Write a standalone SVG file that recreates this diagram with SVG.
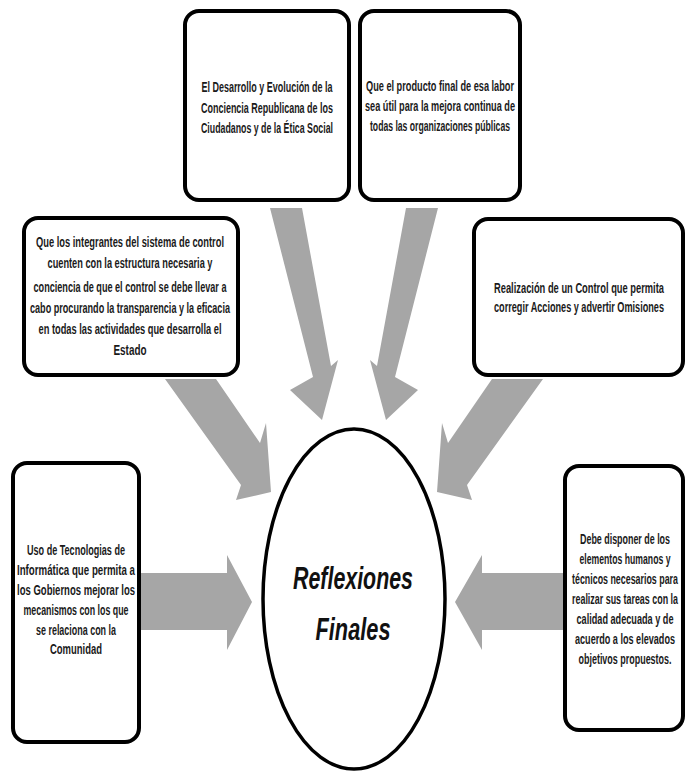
<svg xmlns="http://www.w3.org/2000/svg" width="686" height="773" viewBox="0 0 686 773">
<style>
.box{fill:#ffffff;stroke:#000000;stroke-width:4}
.arr{fill:#a6a6a6;stroke:none}
.t{font-family:"Liberation Sans Narrow","Liberation Sans",Arial,sans-serif;font-size:15px;font-weight:bold;fill:#1a1a1a;text-anchor:middle}
.c{font-family:"Liberation Sans",Arial,sans-serif;font-size:32px;font-style:italic;font-weight:bold;fill:#111111;text-anchor:middle}
</style>
<rect x="0" y="0" width="686" height="773" fill="#ffffff"/>
<g id="connectors">
<polygon class="arr" points="270,208 302,208 331,366 338,360 322,420 290,390 313,377"/>
<polygon class="arr" points="406,208 438,208 395,377 418,390 386,420 370,360 377,366"/>
<polygon class="arr" points="165,379 216,379 260,443 266,423 271,492 236,500 241,485"/>
<polygon class="arr" points="492,379 543,379 467,485 472,500 437,492 442,423 448,443"/>
<polygon class="arr" points="141,573 227,573 227,555 252,602 227,650 227,630 141,630"/>
<polygon class="arr" points="563,573 482,573 482,555 455,602 482,650 482,630 563,630"/>
</g>
<g id="node-desarrollo">
<rect class="box" x="185" y="11" width="164" height="189" rx="14"/>
<text class="t" x="267" y="92" textLength="131" lengthAdjust="spacingAndGlyphs">El Desarrollo y Evolución de la</text>
<text class="t" x="267" y="113" textLength="132" lengthAdjust="spacingAndGlyphs">Conciencia Republicana de los</text>
<text class="t" x="267" y="133" textLength="132" lengthAdjust="spacingAndGlyphs">Ciudadanos y de la Ética Social</text>
</g>
<g id="node-producto">
<rect class="box" x="360" y="11" width="160" height="189" rx="14"/>
<text class="t" x="440" y="91" textLength="148" lengthAdjust="spacingAndGlyphs">Que el producto final de esa labor</text>
<text class="t" x="440" y="111" textLength="150" lengthAdjust="spacingAndGlyphs">sea útil para la mejora continua de</text>
<text class="t" x="440" y="131" textLength="140" lengthAdjust="spacingAndGlyphs">todas las organizaciones públicas</text>
</g>
<g id="node-integrantes">
<rect class="box" x="24" y="218" width="214" height="157" rx="14"/>
<text class="t" x="130" y="247" textLength="188" lengthAdjust="spacingAndGlyphs">Que los integrantes del sistema de control</text>
<text class="t" x="130" y="268" textLength="165" lengthAdjust="spacingAndGlyphs">cuenten con la estructura necesaria y</text>
<text class="t" x="130" y="292" textLength="193" lengthAdjust="spacingAndGlyphs">conciencia de que el control se debe llevar a</text>
<text class="t" x="130" y="313" textLength="200" lengthAdjust="spacingAndGlyphs">cabo procurando la transparencia y la eficacia</text>
<text class="t" x="130" y="334" textLength="183" lengthAdjust="spacingAndGlyphs">en todas las actividades que desarrolla el</text>
<text class="t" x="130" y="355" textLength="33" lengthAdjust="spacingAndGlyphs">Estado</text>
</g>
<g id="node-control">
<rect class="box" x="474" y="219" width="209" height="156" rx="14"/>
<text class="t" x="579" y="293" textLength="170" lengthAdjust="spacingAndGlyphs">Realización de un Control que permita</text>
<text class="t" x="579" y="312" textLength="170" lengthAdjust="spacingAndGlyphs">corregir Acciones y advertir Omisiones</text>
</g>
<g id="node-tecnologias">
<rect class="box" x="13" y="463" width="126" height="279" rx="14"/>
<text class="t" x="76" y="555" textLength="98" lengthAdjust="spacingAndGlyphs">Uso de Tecnologias de</text>
<text class="t" x="76" y="575" textLength="118" lengthAdjust="spacingAndGlyphs">Informática que permita a</text>
<text class="t" x="76" y="595" textLength="118" lengthAdjust="spacingAndGlyphs">los Gobiernos mejorar los</text>
<text class="t" x="76" y="615" textLength="105" lengthAdjust="spacingAndGlyphs">mecanismos con los que</text>
<text class="t" x="76" y="635" textLength="80" lengthAdjust="spacingAndGlyphs">se relaciona con la</text>
<text class="t" x="76" y="654" textLength="52" lengthAdjust="spacingAndGlyphs">Comunidad</text>
</g>
<g id="node-disponer">
<rect class="box" x="565" y="466" width="118" height="264" rx="14"/>
<text class="t" x="625" y="544" textLength="90" lengthAdjust="spacingAndGlyphs">Debe disponer de los</text>
<text class="t" x="625" y="564" textLength="91" lengthAdjust="spacingAndGlyphs">elementos humanos y</text>
<text class="t" x="625" y="584" textLength="106" lengthAdjust="spacingAndGlyphs">técnicos necesarios para</text>
<text class="t" x="625" y="604" textLength="106" lengthAdjust="spacingAndGlyphs">realizar sus tareas con la</text>
<text class="t" x="625" y="624" textLength="97" lengthAdjust="spacingAndGlyphs">calidad adecuada y de</text>
<text class="t" x="625" y="644" textLength="100" lengthAdjust="spacingAndGlyphs">acuerdo a los elevados</text>
<text class="t" x="625" y="664" textLength="93" lengthAdjust="spacingAndGlyphs">objetivos propuestos.</text>
</g>
<g id="node-center">
<ellipse cx="354" cy="599" rx="91" ry="170" fill="#ffffff" stroke="#000000" stroke-width="3.5"/>
<text class="c" x="353" y="589" textLength="120" lengthAdjust="spacingAndGlyphs">Reflexiones</text>
<text class="c" x="353" y="640" textLength="75" lengthAdjust="spacingAndGlyphs">Finales</text>
</g>
</svg>
